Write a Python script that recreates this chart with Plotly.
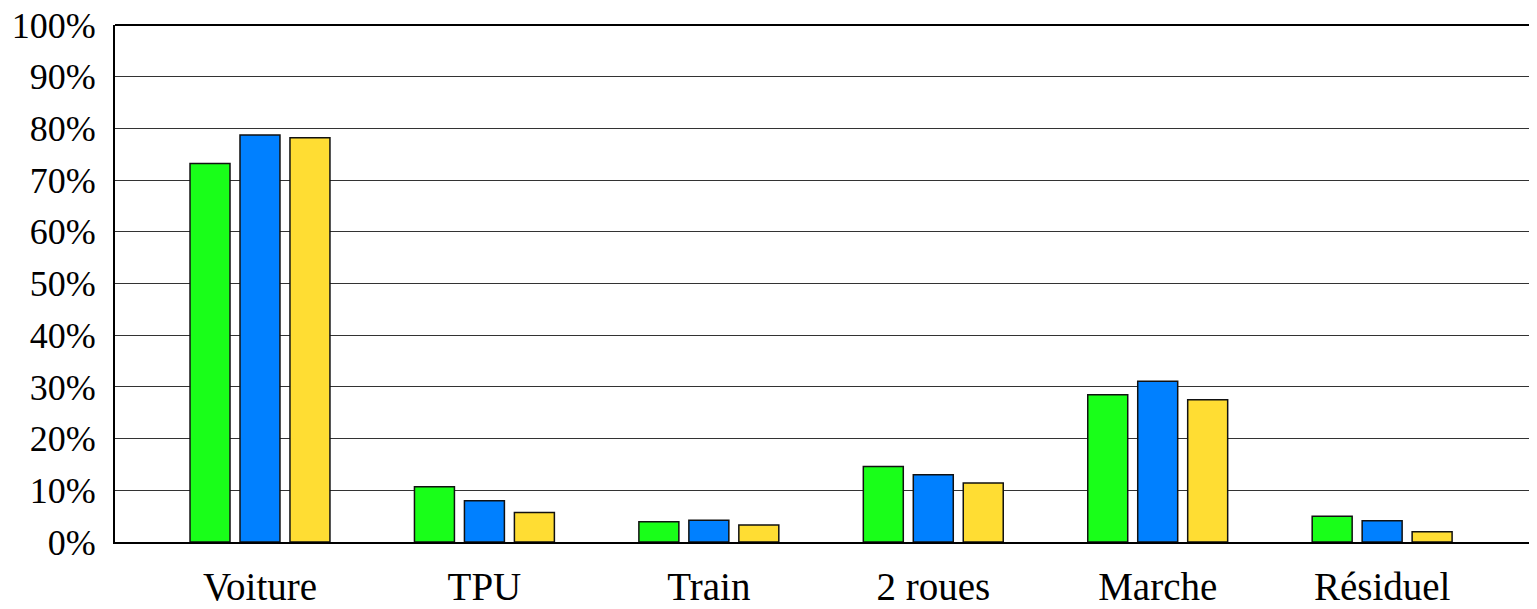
import plotly.graph_objects as go

categories = ["Voiture", "TPU", "Train", "2 roues", "Marche", "Résiduel"]
series_green = [73.2, 10.7, 3.9, 14.6, 28.5, 5.0]
series_blue = [78.7, 8.0, 4.2, 13.0, 31.1, 4.1]
series_yellow = [78.2, 5.7, 3.3, 11.4, 27.5, 2.0]
y_ticks = [0, 10, 20, 30, 40, 50, 60, 70, 80, 90, 100]
y_tick_labels = [f"{v}%" for v in y_ticks]

colors = ["#19ff19", "#0080ff", "#ffdd33"]
names = ["Série 1", "Série 2", "Série 3"]

fig = go.Figure()
for name, vals, col in zip(names, [series_green, series_blue, series_yellow], colors):
    fig.add_trace(go.Bar(
        x=categories, y=vals, name=name,
        marker=dict(color=col, line=dict(color="#111111", width=1.5)),
    ))

font = "Liberation Serif, Times New Roman, serif"
# page body has an 8px margin; compensate so the plot area lands where the reference has it
fig.update_layout(
    width=1529, height=601,
    margin=dict(l=107, r=0, t=17, b=67, autoexpand=False),
    paper_bgcolor="white", plot_bgcolor="white",
    barmode="group", bargap=0.332, bargroupgap=0.2,
    showlegend=False,
    font=dict(family=font, size=36, color="black"),
    xaxis=dict(
        type="category", range=[-0.646, 5.69], automargin=False,
        showline=True, linecolor="black", linewidth=2,
        mirror=False, showgrid=False, ticks="", ticklabelstandoff=9,
        ticklabeloverflow="allow",
        tickfont=dict(family=font, size=39, color="black"),
    ),
    yaxis=dict(
        range=[0, 100], tickvals=y_ticks, ticktext=y_tick_labels, automargin=False,
        showline=True, linecolor="black", linewidth=2,
        showgrid=True, gridcolor="#333333", gridwidth=1,
        zeroline=False, ticks="", ticklabelstandoff=10,
        ticklabeloverflow="allow",
        tickfont=dict(family=font, size=36, color="black"),
    ),
)
fig.add_shape(type="line", xref="paper", yref="paper", x0=0, x1=1, y0=1, y1=1,
              line=dict(color="black", width=2))

fig.write_html("out.html")
